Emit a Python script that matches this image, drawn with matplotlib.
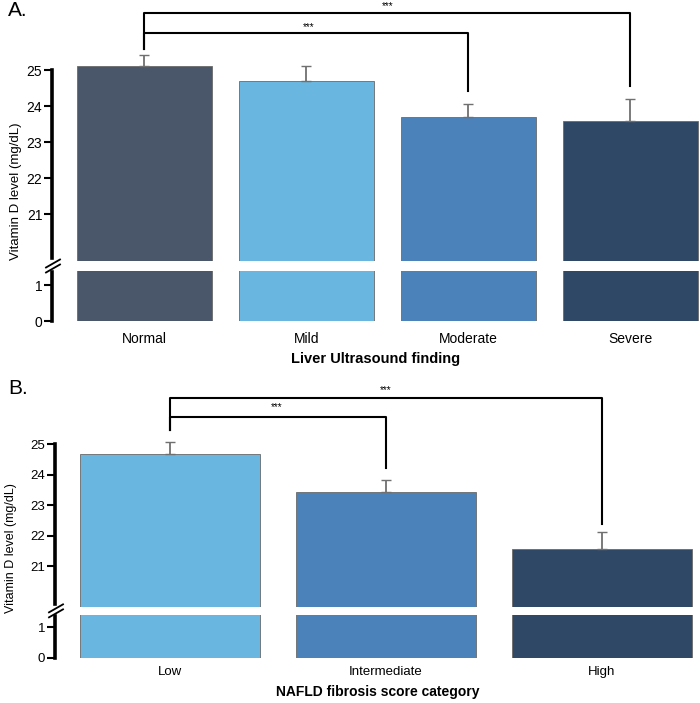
import matplotlib
matplotlib.use("Agg")
import matplotlib.pyplot as plt
from matplotlib.lines import Line2D

plt.rcParams["font.family"] = ["Liberation Sans", "DejaVu Sans"]

# panel A data
us_cats = ["Normal", "Mild", "Moderate", "Severe"]
us_vals = [25.11, 24.71, 23.69, 23.59]
us_errs = [0.31, 0.42, 0.36, 0.60]
us_colors = ["#4a5669", "#69b6e0", "#4a82b9", "#2e4865"]
us_pairs = [(0, 2), (0, 3)]

# panel B data
nfs_cats = ["Low", "Intermediate", "High"]
nfs_vals = [24.69, 23.42, 21.55]
nfs_errs = [0.39, 0.42, 0.57]
nfs_colors = ["#69b6e0", "#4a82b9", "#2e4865"]
nfs_pairs = [(0, 1), (0, 2)]

W, H = 700, 703
fig = plt.figure(figsize=(W / 100, H / 100), dpi=100)


def rect(left, top, width, height):
    return [left / W, 1 - (top + height) / H, width / W, height / H]


def panel(cfg):
    n = len(cfg["cats"])
    xs = list(range(n))
    axu = fig.add_axes(rect(cfg["left"], cfg["top"], W - cfg["left"], cfg["hu"]))
    axl = fig.add_axes(rect(cfg["left"], cfg["top"] + cfg["hu"] + cfg["gap"],
                            W - cfg["left"], cfg["hl"]))
    for ax in (axu, axl):
        ax.bar(xs, cfg["vals"], width=0.835, color=cfg["colors"],
               edgecolor="#6a6a6a", linewidth=0.6, zorder=2)
        ax.set_xlim(cfg["xlim"])
        for s in ("top", "right", "bottom"):
            ax.spines[s].set_visible(False)
        ax.spines["left"].set_linewidth(2.6)
        ax.tick_params(axis="y", direction="out", length=6, width=1.5,
                       labelsize=cfg["fs"], pad=1)
        ax.patch.set_alpha(0)
    axu.set_ylim(cfg["ylo"], cfg["ylo"] + cfg["hu"] / cfg["ppu"])
    axl.set_ylim(0, cfg["hl"] / cfg["ppul"])
    axu.spines["left"].set_bounds(cfg["ylo"] + 0.08, 25)
    axl.spines["left"].set_bounds(0, cfg["hl"] / cfg["ppul"] - 0.03)
    axu.set_yticks([21, 22, 23, 24, 25])
    axl.set_yticks([0, 1])
    axu.set_xticks([])
    axl.set_xticks(xs)
    axl.set_xticklabels(cfg["cats"], fontsize=cfg["fs"])
    axl.tick_params(axis="x", length=0, pad=cfg["xpad"])
    axl.set_xlabel(cfg["xlabel"], fontsize=cfg["fs"] + 0.5, fontweight="bold",
                   labelpad=cfg["lpad"])

    # upward error bars
    axu.errorbar(xs, cfg["vals"], yerr=[[0] * n, cfg["errs"]], fmt="none",
                 ecolor="#707070", elinewidth=1.3, capsize=3.5, capthick=1.0,
                 zorder=3)

    # significance brackets
    for (a, b), yb, yend, ty in zip(cfg["pairs"], cfg["bary"], cfg["legend"], cfg["stary"]):
        axu.plot([a, a, b, b], [cfg["leftleg"], yb, yb, yend], color="black",
                 lw=1.5, clip_on=False, zorder=4)
        axu.text(cfg["starx"][b], ty, "***", ha="center", va="center",
                 fontsize=7, clip_on=False)

    # broken axis marks
    bx = cfg["left"] + 1
    by = cfg["top"] + cfg["hu"] + cfg["gap"] / 2
    for off in (-2.5, 2.5):
        fig.add_artist(Line2D([(bx - 7) / W, (bx + 7) / W],
                              [1 - (by + off + 4) / H, 1 - (by + off - 4) / H],
                              color="black", lw=1.3))
    fig.text(cfg["lblx"] / W, 1 - cfg["lbly"] / H, "Vitamin D level (mg/dL)",
             rotation=90, ha="center", va="center", fontsize=cfg["fs"] - 0.5)
    fig.text(cfg["tagx"] / W, 1 - cfg["tagy"] / H, cfg["tag"], fontsize=15,
             ha="left", va="center")


panel(dict(cats=us_cats, vals=us_vals, errs=us_errs, colors=us_colors,
           pairs=us_pairs, left=52, top=0, hu=261, gap=10, hl=50,
           ylo=19.7, ppu=36.0, ppul=36.0, xlim=(-0.571, 3.43), fs=10,
           xlabel="Liver Ultrasound finding", xpad=8, lpad=4,
           bary=[26.03, 26.58], legend=[24.42, 24.56], leftleg=25.6,
           stary=[26.2, 26.78], starx={2: 1.015, 3: 1.5},
           lblx=16, lbly=191, tag="A.", tagx=8, tagy=10))

panel(dict(cats=nfs_cats, vals=nfs_vals, errs=nfs_errs, colors=nfs_colors,
           pairs=nfs_pairs, left=55, top=375, hu=231.7, gap=8.3, hl=43,
           ylo=19.67, ppu=30.5, ppul=31.0, xlim=(-0.532, 2.454), fs=9.5,
           xlabel="NAFLD fibrosis score category", xpad=6, lpad=5,
           bary=[25.9, 26.52], legend=[24.21, 22.38], leftleg=25.46,
           stary=[26.2, 26.78], starx={1: 0.495, 2: 1.0},
           lblx=11, lbly=548, tag="B.", tagx=8, tagy=389))

fig.savefig("out.png", dpi=100)
